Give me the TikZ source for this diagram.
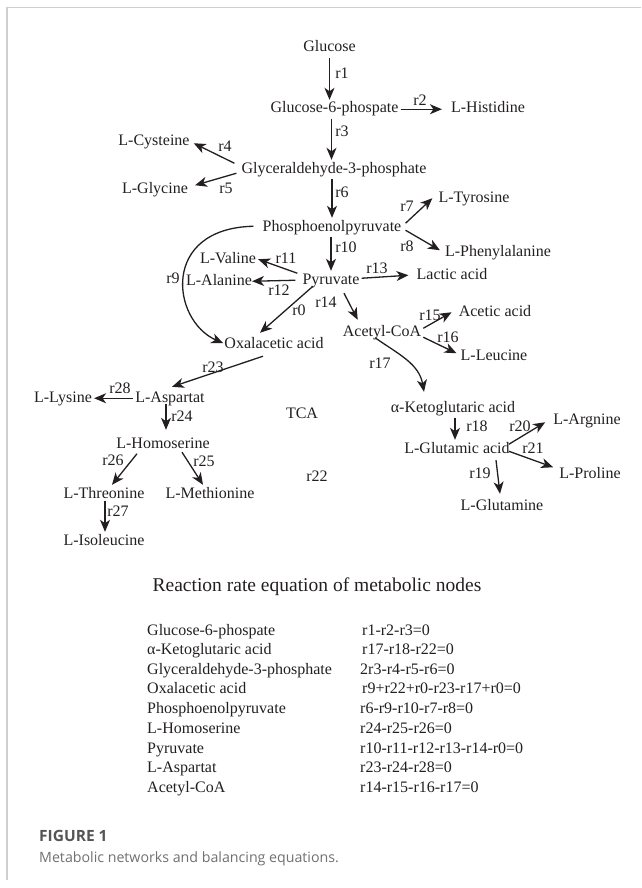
\documentclass[tikz,border=0pt]{standalone}
\usepackage{fontspec}
\setmainfont{Liberation Serif}
\newfontfamily\capfont{Open Sans}
\usetikzlibrary{arrows.meta}
\definecolor{ink}{HTML}{231F20}
\definecolor{framegray}{HTML}{CFCFCF}
\definecolor{capgray}{HTML}{555555}
\definecolor{captext}{HTML}{707070}
\begin{document}
\begin{tikzpicture}[x=1pt,y=-1pt,
  metab/.style={font=\fontsize{16}{19}\selectfont, text=ink, inner sep=2pt, text height=11pt, text depth=3.5pt, anchor=base},
  rlab/.style={font=\fontsize{16}{19}\selectfont, text=ink, inner sep=0pt, anchor=base},
  arr/.style={draw=ink, line width=1.3pt, -{Stealth[length=12pt,width=10pt,inset=3.5pt]}},
  tbl/.style={font=\fontsize{16}{19}\selectfont, text=ink, inner sep=0pt, anchor=base west}]
\useasboundingbox (0,0) rectangle (641,888);
\draw[framegray, line width=1.5pt] (641,7.5) -- (7,7.5) -- (7,880);

% metabolites
\node[metab] (glc) at (329.5,52) {Glucose};
\node[metab] (g6p) at (334.5,113) {Glucose-6-phospate};
\node[metab] (his) at (488,113) {L-Histidine};
\node[metab] (g3p) at (334,173) {Glyceraldehyde-3-phosphate};
\node[metab] (cys) at (154,145) {L-Cysteine};
\node[metab] (gly) at (155,193) {L-Glycine};
\node[metab] (pep) at (332,231) {Phosphoenolpyruvate};
\node[metab] (tyr) at (474,202) {L-Tyrosine};
\node[metab] (phe) at (498,256) {L-Phenylalanine};
\node[metab] (pyr) at (331,284) {Pyruvate};
\node[metab] (val) at (228,263) {L-Valine};
\node[metab] (ala) at (219,285) {L-Alanine};
\node[metab] (lac) at (452,279) {Lactic acid};
\node[metab] (oaa) at (274,348) {Oxalacetic acid};
\node[metab] (aca) at (382,336) {Acetyl-CoA};
\node[metab] (ace) at (495,316) {Acetic acid};
\node[metab] (leu) at (494,360) {L-Leucine};
\node[metab] (akg) at (453,412) {α-Ketoglutaric acid};
\node[metab] (glu) at (457,453) {L-Glutamic acid};
\node[metab] (arg) at (587,424) {L-Argnine};
\node[metab] (pro) at (590,478) {L-Proline};
\node[metab] (gln) at (502,510) {L-Glutamine};
\node[metab] (tca) at (302,418) {TCA};
\node[metab] (lys) at (63,402) {L-Lysine};
\node[metab] (asp) at (170,402) {L-Aspartat};
\node[metab] (hom) at (163,448) {L-Homoserine};
\node[metab] (thr) at (104,498) {L-Threonine};
\node[metab] (mtn) at (210,498) {L-Methionine};
\node[metab] (ile) at (104,545) {L-Isoleucine};

% reactions
\draw[arr] (glc.south) -- (glc.south |- g6p.north);
\draw[arr] (g6p.east) -- ([xshift=-7pt]his.west);
\draw[arr] ([xshift=-3pt]g6p.south) -- ([xshift=-3pt]g6p.south |- g3p.north);
\draw[arr] ([xshift=-5pt,yshift=6pt]g3p.west) -- ([xshift=2pt,yshift=-2pt]cys.east);
\draw[arr] ([xshift=-3pt,yshift=-4pt]g3p.west) -- ([xshift=5pt,yshift=4pt]gly.east);
\draw[arr] (g3p.south -| pep.north) -- (pep.north);
\draw[arr] ([xshift=2pt,yshift=4pt]pep.east) -- ([xshift=-4pt]tyr.west);
\draw[arr] ([xshift=2pt,yshift=-3pt]pep.east) -- ([xshift=-3pt,yshift=2pt]phe.west);
\draw[arr] (pyr.north |- pep.south) -- (pyr.north);
\draw[arr] ([xshift=-3pt,yshift=7pt]pyr.west) -- (val.east);
\draw[arr] ([xshift=-5pt]pyr.west) -- ([xshift=-2pt]ala.east);
\draw[arr] ([yshift=2pt]pyr.east) -- ([xshift=-6pt]lac.west);
\draw[arr] ([xshift=13pt,yshift=-3.5pt]pyr.south) -- ([xshift=17pt,yshift=3pt]aca.north west);
\draw[arr] ([xshift=-18pt,yshift=3.5pt]pyr.south) -- ([xshift=-14pt,yshift=2pt]oaa.north);
\draw[arr] ([xshift=-7pt,yshift=1pt]pep.west) .. controls +(-93,2) and +(-52,-23) .. ([xshift=1pt,yshift=1pt]oaa.west);
\draw[arr] ([xshift=-7pt,yshift=4pt]aca.south) to[out=-35,in=100] ([xshift=-29pt,yshift=7pt]akg.north);
\draw[arr] ([yshift=4pt]aca.east) -- ([xshift=-5pt]ace.west);
\draw[arr] ([yshift=-5pt]aca.east) -- ([xshift=-2pt,yshift=3pt]leu.west);
\draw[arr] ([xshift=2pt]akg.south) -- ([xshift=2pt]akg.south |- glu.north);
\draw[arr] ([xshift=-3pt,yshift=5pt]glu.east) -- ([xshift=-6pt,yshift=-2pt]arg.west);
\draw[arr] ([xshift=-3pt,yshift=-2pt]glu.east) -- ([xshift=-4pt,yshift=7pt]pro.west);
\draw[arr] ([xshift=39pt,yshift=-1.5pt]glu.south) -- ([xshift=-2pt,yshift=3pt]gln.north);
\draw[arr] ([xshift=-11pt,yshift=-2.5pt]oaa.south) -- ([xshift=2pt,yshift=2pt]asp.north);
\draw[arr] (asp.west) -- (lys.east);
\draw[arr] ([xshift=-4pt,yshift=4pt]asp.south) -- ([xshift=3pt,yshift=5pt]hom.north);
\draw[arr] ([xshift=-26pt]hom.south) -- ([xshift=8pt]thr.north);
\draw[arr] ([xshift=19pt,yshift=1.5pt]hom.south) -- ([xshift=-7pt]mtn.north);
\draw[arr] ([xshift=1pt,yshift=3pt]thr.south) -- ([xshift=1pt]thr.south |- ile.north);

% reaction labels
\node[rlab] (l1) at (342,78.5) {r1};
\node[rlab] (l2) at (420,105.5) {r2};
\node[rlab] (l3) at (342,136.5) {r3};
\node[rlab] (l4) at (225,151.5) {r4};
\node[rlab] (l5) at (226,193.5) {r5};
\node[rlab] (l6) at (342,197.5) {r6};
\node[rlab] (l7) at (407,211.5) {r7};
\node[rlab] (l8) at (407,251.5) {r8};
\node[rlab] (l10) at (346,252.5) {r10};
\node[rlab] (l11) at (286,263.5) {r11};
\node[rlab] (l12) at (279,295.5) {r12};
\node[rlab] (l9) at (173,283.5) {r9};
\node[rlab] (l13) at (377,273.5) {r13};
\node[rlab] (l14) at (326,307.5) {r14};
\node[rlab] (l0) at (299,315.5) {r0};
\node[rlab] (l15) at (430,320.5) {r15};
\node[rlab] (l16) at (448,342.5) {r16};
\node[rlab] (l17) at (380,368.5) {r17};
\node[rlab] (l18) at (477,431.5) {r18};
\node[rlab] (l20) at (520,431.5) {r20};
\node[rlab] (l21) at (533,453.5) {r21};
\node[rlab] (l19) at (480,478.5) {r19};
\node[rlab] (l22) at (317,481.5) {r22};
\node[rlab] (l23) at (213,372.5) {r23};
\node[rlab] (l28) at (120,393.5) {r28};
\node[rlab] (l24) at (182,421.5) {r24};
\node[rlab] (l26) at (113,465.5) {r26};
\node[rlab] (l25) at (204,466.5) {r25};
\node[rlab] (l27) at (118,516.5) {r27};

% equations
\node[font=\fontsize{19.5}{23}\selectfont, text=ink, anchor=base, inner sep=0pt] (title) at (317,591) {Reaction rate equation of metabolic nodes};
\node[tbl] (n1) at (147,635.5) {Glucose-6-phospate};
\node[tbl] (n2) at (147,654.5) {α-Ketoglutaric acid};
\node[tbl] (n3) at (147,674.5) {Glyceraldehyde-3-phosphate};
\node[tbl] (n4) at (147,693.5) {Oxalacetic acid};
\node[tbl] (n5) at (147,713.5) {Phosphoenolpyruvate};
\node[tbl] (n6) at (147,733.5) {L-Homoserine};
\node[tbl] (n7) at (147,753.5) {Pyruvate};
\node[tbl] (n8) at (147,772.5) {L-Aspartat};
\node[tbl] (n9) at (147,792.5) {Acetyl-CoA};
\node[tbl] (e1) at (362,635.5) {r1-r2-r3=0};
\node[tbl] (e2) at (362,654.5) {r17-r18-r22=0};
\node[tbl] (e3) at (360,674.5) {2r3-r4-r5-r6=0};
\node[tbl] (e4) at (362,693.5) {r9+r22+r0-r23-r17+r0=0};
\node[tbl] (e5) at (360,713.5) {r6-r9-r10-r7-r8=0};
\node[tbl] (e6) at (360,733.5) {r24-r25-r26=0};
\node[tbl] (e7) at (360,753.5) {r10-r11-r12-r13-r14-r0=0};
\node[tbl] (e8) at (360,772.5) {r23-r24-r28=0};
\node[tbl] (e9) at (360,792.5) {r14-r15-r16-r17=0};

% caption
\node[anchor=base west, inner sep=0pt, font=\capfont\bfseries\fontsize{15.5}{18}\selectfont, text=capgray] (fig) at (39,841) {FIGURE 1};
\node[anchor=base west, inner sep=0pt, font=\capfont\fontsize{14.2}{17}\selectfont, text=captext] (cap) at (39,862) {Metabolic networks and balancing equations.};
\end{tikzpicture}
\end{document}
